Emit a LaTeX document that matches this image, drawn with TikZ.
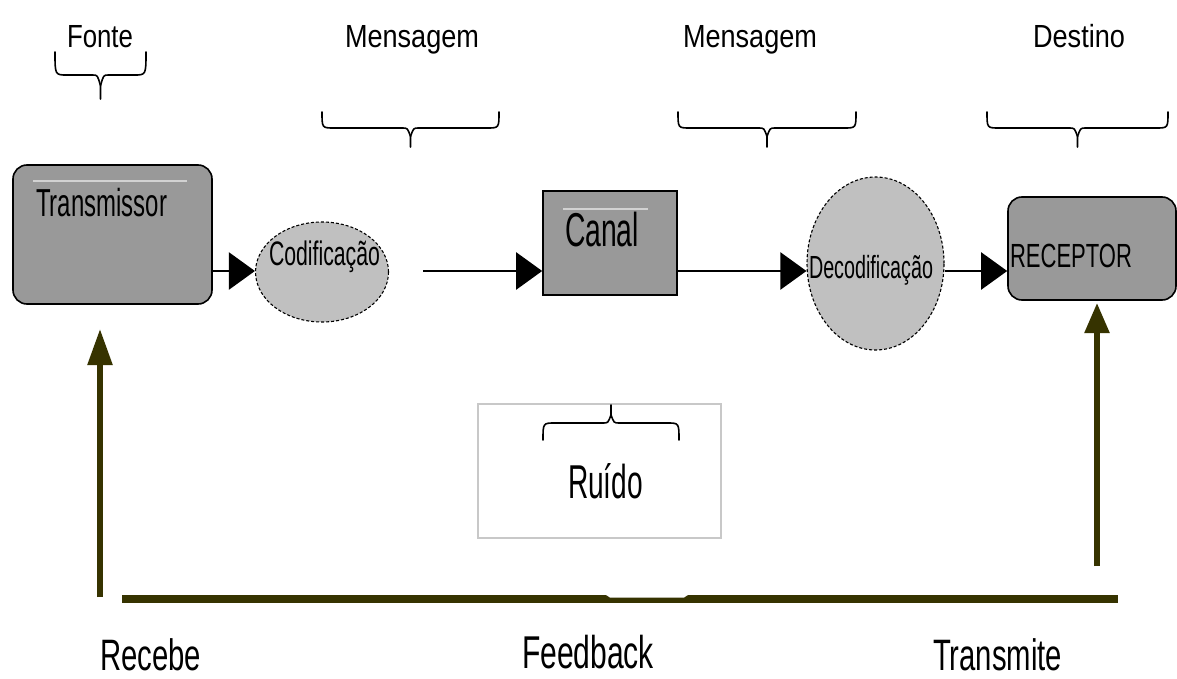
\documentclass[tikz,border=0pt]{standalone}
\usepackage{fontspec}
\setmainfont{Liberation Sans}
\usetikzlibrary{arrows.meta,shapes.geometric}

\definecolor{boxgray}{HTML}{999999}
\definecolor{ovalgray}{HTML}{C0C0C0}
\definecolor{fbolive}{HTML}{363300}
\definecolor{framegray}{HTML}{C8C8C8}
\definecolor{gleam}{HTML}{D2D2D2}

% text set at a given size and squeezed to a given width
\newcommand\fitlabel[3]{{\fontsize{#2}{#2}\selectfont\resizebox{#1}{\height}{#3}}}

% curly brace: x-left, x-right, y of the ends, y of the flat part, y of the tip
\newcommand\bracepath[5]{%
  \draw[curly] (#1,#3) .. controls (#1,#4) and (#1,#4) .. ({#1+12},#4)
    -- ({(#1+#2)/2-8},#4) .. controls ({(#1+#2)/2-3},#4) .. ({(#1+#2)/2},{#4+0.45*(#5-#4)})
    -- ({(#1+#2)/2},#5);
  \draw[curly] (#2,#3) .. controls (#2,#4) and (#2,#4) .. ({#2-12},#4)
    -- ({(#1+#2)/2+8},#4) .. controls ({(#1+#2)/2+3},#4) .. ({(#1+#2)/2},{#4+0.45*(#5-#4)});
}

\tikzset{
  lbl/.style={inner sep=0pt, outer sep=0pt, anchor=base west},
  block/.style={draw=black, line width=1.6pt, fill=boxgray, inner sep=0pt},
  oval/.style={ellipse, draw=black, densely dashed, line width=1.1pt, fill=ovalgray, inner sep=0pt},
  flow/.style={draw=black, line width=2.2pt, -{Triangle[length=26pt,width=37pt]}},
  back/.style={draw=fbolive, line width=5.5pt},
  curly/.style={draw=black, line width=1.6pt, line cap=round, line join=round},
  gleamline/.style={draw=gleam, line width=2.5pt}
}

\begin{document}
\begin{tikzpicture}[x=1pt,y=-1pt]
\useasboundingbox (0,0) rectangle (1177,679);
\fill[white] (0,0) rectangle (1177,679);

% top labels and their braces
\node[lbl] (fonte) at (67,48) {\fitlabel{66pt}{32}{Fonte}};
\node[lbl] (msg1) at (345,48) {\fitlabel{134pt}{32}{Mensagem}};
\node[lbl] (msg2) at (683,48) {\fitlabel{134pt}{32}{Mensagem}};
\node[lbl] (destino) at (1033,48) {\fitlabel{92pt}{32}{Destino}};
\bracepath{55}{146}{52}{75}{99}
\bracepath{322}{499}{112}{128}{147}
\bracepath{678}{856}{112}{128}{147}
\bracepath{987}{1168}{112}{128}{147}

% main chain
\coordinate (row) at (0,271);
\node[block, rounded corners=14pt, minimum width=199pt, minimum height=139pt] (trans) at (112.5,234.5) {};
\draw[gleamline] (33,181) -- (187,181);
\node[lbl] (transtxt) at (36,216) {\fitlabel{131pt}{39}{Transmissor}};

\node[oval, minimum width=133pt, minimum height=100pt] (cod) at (322,272) {};
\node[lbl] (codtxt) at (269,265) {\fitlabel{111pt}{34}{Codificação}};

\node[block, minimum width=134pt, minimum height=104pt] (canal) at (610,243) {};
\draw[gleamline] (563,209) -- (648,209);
\node[lbl] (canaltxt) at (565,247) {\fitlabel{74pt}{47.5}{Canal}};

\node[oval, minimum width=137pt, minimum height=173pt] (decod) at (875.5,263.5) {};
\node[lbl] (decodtxt) at (809,278) {\fitlabel{124pt}{32}{Decodificação}};

\node[block, rounded corners=14pt, minimum width=168pt, minimum height=103pt] (recep) at (1092,248.5) {};
\node[lbl] (receptxt) at (1010,267) {\fitlabel{122pt}{33.5}{RECEPTOR}};

\coordinate (gapstart) at (423,271);
\draw[flow] (trans.east |- row) -- (cod.west |- row);
\draw[flow] (gapstart) -- (canal.west |- row);
\draw[flow] (canal.east |- row) -- (decod.west |- row);
\draw[flow] (decod.east |- row) -- (recep.west |- row);

% noise
\node[draw=framegray, line width=1.2pt, minimum width=243pt, minimum height=134pt, inner sep=0pt] (ruido) at (599.5,471) {};
\bracepath{543}{679}{440}{423}{405}
\node[lbl] (ruidotxt) at (568,498) {\fitlabel{75pt}{47.5}{Ruído}};

% feedback loop
\coordinate (fbL) at (122,599);
\coordinate (fbR) at (1118,599);
\coordinate (recvfoot) at (100,597);
\coordinate (recvtip) at (100,329);
\coordinate (sendfoot) at (1097,566);
\coordinate (sendtip) at (1097,303);
\draw[fbolive, line width=8.5pt] (fbL) -- (fbR);
\fill[white] (603,593) -- (610,597.5) -- (684,597.5) -- (691,593) -- cycle;
\draw[back, -{Triangle[length=36pt,width=24pt]}] (recvfoot) -- (recvtip);
\draw[back, -{Triangle[length=30pt,width=24pt]}] (sendfoot) -- (sendtip);

\node[lbl] (recebe) at (100,670) {\fitlabel{101pt}{44}{Recebe}};
\node[lbl] (feedback) at (522,668) {\fitlabel{132pt}{46}{Feedback}};
\node[lbl] (transmite) at (933,670) {\fitlabel{129pt}{44}{Transmite}};
\end{tikzpicture}
\end{document}
